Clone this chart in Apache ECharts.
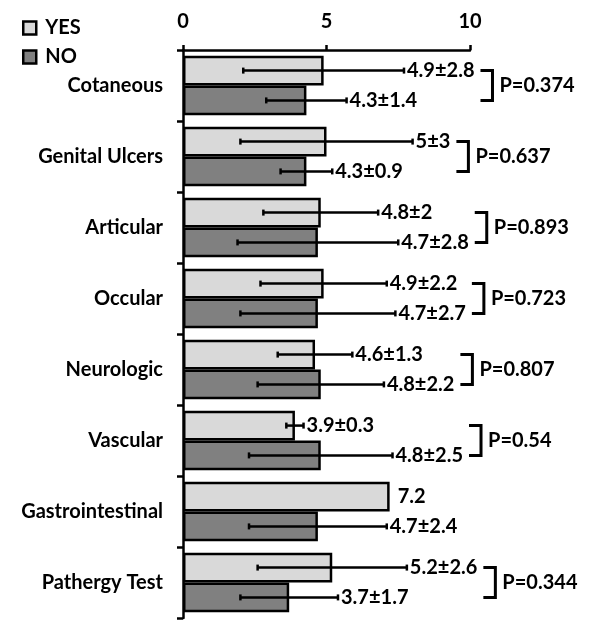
<!DOCTYPE html>
<html>
<head>
<meta charset="utf-8">
<script src="https://cdn.jsdelivr.net/npm/echarts@6/dist/echarts.min.js"></script>
<style>
html, body { margin: 0; padding: 0; background: #fff; }
#chart { width: 590px; height: 621px; }
</style>
</head>
<body>
<div id="chart"></div>
<script>
const categories = ['Cotaneous', 'Genital Ulcers', 'Articular', 'Occular', 'Neurologic', 'Vascular', 'Gastrointestinal', 'Pathergy Test']
const yesMean = [4.9, 5, 4.8, 4.9, 4.6, 3.9, 7.2, 5.2]
const yesSd = [2.8, 3, 2, 2.2, 1.3, 0.3, null, 2.6]
const noMean = [4.3, 4.3, 4.7, 4.7, 4.8, 4.8, 4.7, 3.7]
const noSd = [1.4, 0.9, 2.8, 2.7, 2.2, 2.5, 2.4, 1.7]
const pValues = ['0.374', '0.637', '0.893', '0.723', '0.807', '0.54', null, '0.344']

const FONT_FAMILY = 'Lato'
const FONT_SIZE = 20
const CAT_GAP = 0.16

// used to find where the value labels end, so the brackets sit after them
const ctx = document.createElement('canvas').getContext('2d')
ctx.font = 'bold ' + FONT_SIZE + 'px ' + FONT_FAMILY
function textWidth (s) {
  return ctx.measureText(s).width
}

function labelText (mean, sd) {
  return sd == null ? String(mean) : mean + '±' + sd
}

// bar centre (y pixel) for a category, side -1 = YES (upper), +1 = NO (lower)
function barCenterY (api, cat, side) {
  const band = api.size([0, 1])[1]
  const barW = band * (1 - CAT_GAP) / 2
  return api.coord([0, cat])[1] + side * barW / 2
}

// where the error bar / label ends, in pixels
function labelStart (api, cat, mean, sd) {
  if (sd == null) return api.coord([mean, cat])[0] + 8
  return api.coord([mean + sd, cat])[0] + 3
}

const errorData = []
categories.forEach(function (c, i) {
  errorData.push([i, yesMean[i], yesSd[i] == null ? '-' : yesSd[i], -1])
  errorData.push([i, noMean[i], noSd[i], 1])
})

function renderError (params, api) {
  const cat = api.value(0)
  const mean = api.value(1)
  let sd = api.value(2)
  if (isNaN(sd)) sd = null
  const side = api.value(3)
  const y = barCenterY(api, cat, side)
  const children = []
  const style = { stroke: '#000', lineWidth: 2.5 }
  if (sd != null) {
    const lo = api.coord([mean - sd, cat])[0]
    const hi = api.coord([mean + sd, cat])[0]
    children.push({ type: 'line', shape: { x1: lo, y1: y, x2: hi, y2: y }, style: style })
    children.push({ type: 'line', shape: { x1: lo, y1: y - 3, x2: lo, y2: y + 3 }, style: style })
    children.push({ type: 'line', shape: { x1: hi, y1: y - 3, x2: hi, y2: y + 3 }, style: style })
  }
  children.push({
    type: 'text',
    style: {
      x: labelStart(api, cat, mean, sd),
      y: y,
      text: labelText(mean, sd),
      fontFamily: FONT_FAMILY,
      fontWeight: 'bold',
      fontSize: FONT_SIZE,
      fill: '#000',
      verticalAlign: 'middle',
      align: 'left'
    }
  })
  return { type: 'group', children: children }
}

function renderBracket (params, api) {
  const i = params.dataIndex
  const p = pValues[i]
  if (p == null) return { type: 'group', children: [] }
  const yTop = barCenterY(api, i, -1)
  const yBot = barCenterY(api, i, 1)
  const endYes = labelStart(api, i, yesMean[i], yesSd[i]) + textWidth(labelText(yesMean[i], yesSd[i]))
  const endNo = labelStart(api, i, noMean[i], noSd[i]) + textWidth(labelText(noMean[i], noSd[i]))
  const x0 = Math.max(endYes, endNo) + 6
  const x1 = x0 + 12
  return {
    type: 'group',
    children: [
      {
        type: 'polyline',
        shape: { points: [[x0, yTop], [x1, yTop], [x1, yBot], [x0, yBot]] },
        style: { stroke: '#000', lineWidth: 3, fill: null }
      },
      {
        type: 'text',
        style: {
          x: x1 + 7,
          y: (yTop + yBot) / 2,
          text: 'P=' + p,
          fontFamily: FONT_FAMILY,
          fontWeight: 'bold',
          fontSize: FONT_SIZE,
          fill: '#000',
          verticalAlign: 'middle',
          align: 'left'
        }
      }
    ]
  }
}

const chart = echarts.init(document.getElementById('chart'))
const options = {
  backgroundColor: '#fff',
  animation: false,
  textStyle: { fontFamily: FONT_FAMILY },
  legend: {
    data: ['YES', 'NO'],
    orient: 'vertical',
    left: 17,
    top: 13,
    icon: 'rect',
    itemWidth: 13,
    itemHeight: 13,
    itemGap: 9,
    itemStyle: { borderColor: '#000', borderWidth: 2.5 },
    textStyle: { fontFamily: FONT_FAMILY, fontWeight: 'bold', fontSize: FONT_SIZE, lineHeight: 20, color: '#000', padding: [0, 0, 0, 4] }
  },
  grid: { left: 183, right: 120, top: 50, bottom: 3 },
  xAxis: {
    type: 'value',
    position: 'top',
    min: 0,
    max: 10,
    interval: 5,
    axisLine: { show: true, lineStyle: { color: '#000', width: 2.5 } },
    axisTick: { show: true, length: 5, lineStyle: { color: '#000', width: 2.5 } },
    splitLine: { show: false },
    axisLabel: { color: '#000', fontFamily: FONT_FAMILY, fontWeight: 'bold', fontSize: FONT_SIZE, margin: 18 }
  },
  yAxis: {
    type: 'category',
    data: categories,
    inverse: true,
    axisLine: { show: true, lineStyle: { color: '#000', width: 2.5 } },
    axisTick: { show: true, length: 6, lineStyle: { color: '#000', width: 2.5 } },
    axisLabel: { color: '#000', fontFamily: FONT_FAMILY, fontWeight: 'bold', fontSize: FONT_SIZE, margin: 20 }
  },
  series: [
    {
      name: 'YES',
      type: 'bar',
      data: yesMean,
      barGap: '0%',
      barCategoryGap: (CAT_GAP * 100) + '%',
      itemStyle: { color: '#d9d9d9', borderColor: '#000', borderWidth: 2.5 }
    },
    {
      name: 'NO',
      type: 'bar',
      data: noMean,
      itemStyle: { color: '#808080', borderColor: '#000', borderWidth: 2.5 }
    },
    {
      name: 'errors',
      type: 'custom',
      renderItem: renderError,
      data: errorData,
      encode: { x: 1, y: 0 },
      clip: false,
      z: 5
    },
    {
      name: 'pvalues',
      type: 'custom',
      renderItem: renderBracket,
      data: categories.map(function (c, i) { return [i, yesMean[i]] }),
      encode: { x: 1, y: 0 },
      clip: false,
      z: 5
    }
  ]
}
chart.setOption(options)
</script>
</body>
</html>
